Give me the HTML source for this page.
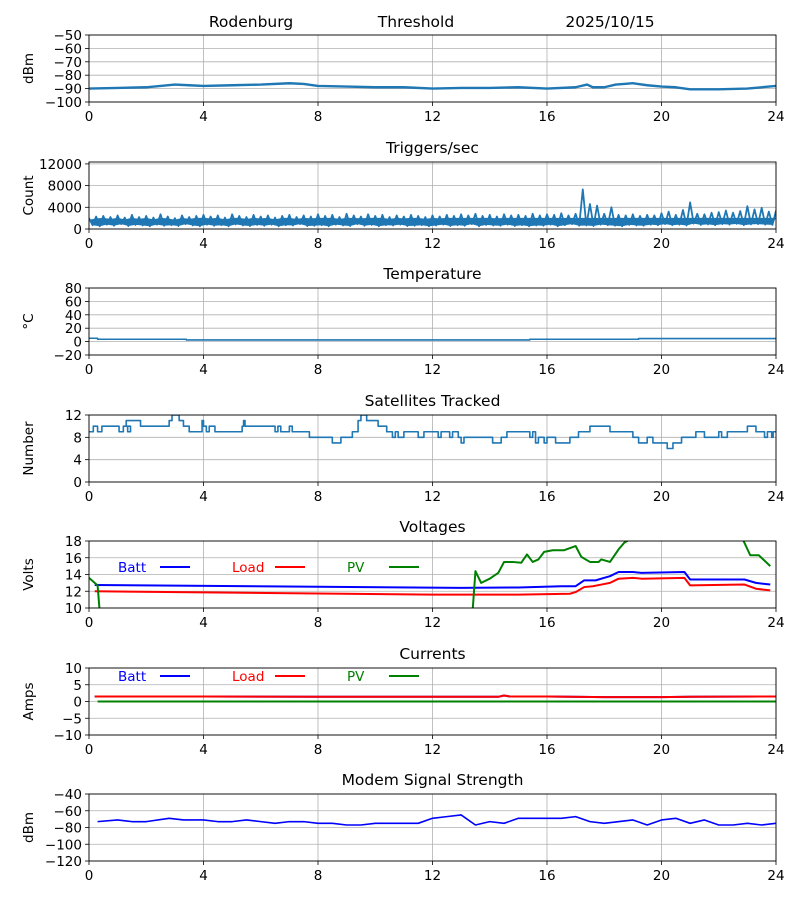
<!DOCTYPE html>
<html><head><meta charset="utf-8">
<style>
html,body{margin:0;padding:0;background:#fff;}
svg{display:block;font-family:"DejaVu Sans","Liberation Sans",sans-serif;}
</style></head>
<body>
<svg id="chart" width="800" height="900" viewBox="0 0 800 900" xmlns="http://www.w3.org/2000/svg">
<rect width="800" height="900" fill="#fff"/>
<text x="251" y="27" font-size="15.5" text-anchor="middle">Rodenburg</text>
<text x="416" y="27" font-size="15.5" text-anchor="middle">Threshold</text>
<text x="610" y="27" font-size="15.5" text-anchor="middle">2025/10/15</text>
</svg>
<script>
// ---- data ----
const xTicks = [0,4,8,12,16,20,24];
// Panel 1: threshold signal (dBm)
const thrHours = [0,1,2,2.5,3,3.5,4,5,6,7,7.5,8,9,10,11,12,13,14,15,16,17,17.4,17.6,18,18.4,18.7,19,19.5,20,20.5,21,22,23,23.5,24];
const thrValues = [-90,-89.5,-89,-88,-87,-87.5,-88,-87.5,-87,-86,-86.5,-88,-88.5,-89,-89,-90,-89.5,-89.5,-89,-90,-89,-87,-89,-89,-87,-86.5,-86,-87.5,-88.5,-89,-90.5,-90.5,-90,-89,-88];
const thrTicks = [-50,-60,-70,-80,-90,-100];
// Panel 2: triggers/sec highs (every 0.25h) and lows (midpoints)
const trigHighs = [2000,2300,2400,2200,2500,2100,2600,2200,2400,2100,2700,2300,2000,2500,2200,2400,2600,
2300,2500,2100,2700,2400,2200,2600,2300,2500,2100,2400,2600,2200,2500,2300,2700,
2400,2600,2200,2800,2500,2300,2700,2400,2600,2200,2500,2300,2600,2400,2200,2500,
2300,2600,2400,2700,2500,2800,2400,2600,2300,2700,2500,2600,2400,2800,2500,2700,
2600,2900,2500,2800,7300,4600,4300,2800,4000,2600,2500,2700,2400,2600,2500,2900,
3200,2600,3500,4900,2800,2700,3000,3100,3400,3000,3300,4200,3600,3900,3200,3400];
const trigLows = [700,500,800,600,900,550,750,650,500,800,600,700,550,900,650,500,
800,600,700,500,850,650,550,750,600,800,500,700,650,900,550,600,
700,500,800,650,550,900,600,750,500,700,650,800,550,600,700,500,
650,800,550,700,600,900,500,750,650,600,800,550,700,500,650,600,
800,500,700,900,600,650,550,800,700,600,500,750,650,600,800,700,
900,700,800,650,1000,750,850,700,900,800,950,700,850,900,800,750];
const trigTicks = [0,4000,8000,12000];
// Panel 3: temperature steps
const tempHours = [0,0.3,0.3,3.4,3.4,15.4,15.4,19.2,19.2,24];
const tempValues = [5,5,3.5,3.5,2.5,2.5,3.5,3.5,4.5,4.5];
const tempTicks = [-20,0,20,40,60,80];
// Panel 4: satellites tracked (step changes)
const satHours = [0,0.15,0.3,0.45,1.05,1.2,1.35,1.45,1.3,1.8,2.8,2.9,3.15,3.3,3.5,3.95,4.0,4.1,4.2,4.4,5.35,5.4,5.45,6.5,6.6,6.7,7.0,7.1,7.7,8.5,8.8,9.2,9.4,9.5,9.7,10.1,10.4,10.6,10.7,10.8,11.0,11.5,11.7,12.2,12.3,12.6,12.7,12.9,13.0,13.1,14.1,14.4,14.6,15.4,15.5,15.6,15.7,15.9,16.0,16.3,16.8,17.1,17.5,18.2,19.0,19.2,19.5,19.7,20.2,20.4,20.7,21.2,21.5,22.0,22.1,22.3,23.0,23.3,23.6,23.7,23.85,23.9,24];
const satValues = [9,10,9,10,9,10,9,10,11,10,11,12,11,10,9,11,10,9,10,9,10,11,10,9,10,9,10,9,8,7,8,9,11,12,11,10,9,8,9,8,9,8,9,8,9,8,9,8,7,8,7,8,9,8,9,7,8,7,8,7,8,9,10,9,8,7,8,7,6,7,8,9,8,9,8,9,10,9,8,9,8,9,9];
const satTicks = [0,4,8,12];
// Panel 5: voltages
const battVHours = [0.2,13,15,16.5,17,17.3,17.7,18,18.2,18.5,19,19.3,20.8,21,22.9,23.3,23.8];
const battVValues = [12.75,12.4,12.45,12.6,12.6,13.3,13.3,13.6,13.8,14.3,14.3,14.2,14.3,13.4,13.4,13.0,12.8];
const loadVHours = [0.2,12,15,16.8,17,17.3,17.6,17.9,18.2,18.5,19,19.3,20.8,21,22.9,23.3,23.8];
const loadVValues = [12.0,11.6,11.6,11.7,11.9,12.5,12.6,12.8,13.0,13.5,13.6,13.5,13.6,12.7,12.8,12.3,12.1];
const pvVHours = [0,0.3,0.6,13.2,13.5,13.7,14.0,14.3,14.5,14.8,15.1,15.3,15.5,15.7,15.9,16.2,16.6,17.0,17.2,17.5,17.8,17.9,18.2,18.5,18.7,18.9,19.5,22.8,23.1,23.4,23.8];
const pvVValues = [13.6,12.7,0,0,14.4,13.0,13.5,14.2,15.5,15.5,15.4,16.4,15.5,15.8,16.7,16.9,16.9,17.4,16.1,15.5,15.5,15.8,15.5,17.0,17.8,18.2,19.5,18.5,16.3,16.3,15.0];
const voltTicks = [10,12,14,16,18];
// Panel 6: currents
const curHours = [0.2,4,8,12,14.3,14.5,14.7,16,18,20,21,24];
const loadCurValues = [1.5,1.5,1.4,1.4,1.4,1.8,1.5,1.5,1.3,1.3,1.4,1.5];
const battCurValues = [1.5,1.5,1.4,1.4,1.4,1.8,1.5,1.5,1.3,1.3,1.4,1.5];
const pvCurValues = [0,0,0,0,0,0,0,0,0,0,0,0];
const curTicks = [-10,-5,0,5,10];
// Panel 7: modem signal
const modemHours = [0.3,1.0,1.5,2.0,2.8,3.3,4.0,4.5,5.0,5.5,6.0,6.5,7.0,7.5,8.0,8.5,9.0,9.5,10.0,11.5,12.0,12.5,13.0,13.5,14.0,14.5,15.0,16.5,17.0,17.5,18.0,19.0,19.5,20.0,20.5,21.0,21.5,22.0,22.5,23.0,23.5,24.0];
const modemValues = [-73,-71,-73,-73,-69,-71,-71,-73,-73,-71,-73,-75,-73,-73,-75,-75,-77,-77,-75,-75,-69,-67,-65,-77,-73,-75,-69,-69,-67,-73,-75,-71,-77,-71,-69,-75,-71,-77,-77,-75,-77,-75];
const modemTicks = [-120,-100,-80,-60,-40];

// ---- drawing ----
const svg = document.getElementById('chart');
const NS = 'http://www.w3.org/2000/svg';
const X0 = 89, X1 = 776;
function mk(tag, attrs, parent){
  const e = document.createElementNS(NS, tag);
  for (const k in attrs) e.setAttribute(k, attrs[k]);
  (parent||svg).appendChild(e);
  return e;
}
function xs(h){ return X0 + (h/24)*(X1-X0); }
function fmt(v){ return String(v).replace('-', '\u2212'); }

function panel(id, top, ymin, ymax, ticks, title, ylabel){
  const bot = top + 67;
  const ys = v => bot - (v-ymin)/(ymax-ymin)*(bot-top);
  const g = mk('g', {});
  
  
  const t = mk('text', {x:(X0+X1)/2, y: top-9, 'font-size':15.5, 'text-anchor':'middle'}, g);
  t.textContent = title;
  
  
  const yl = mk('text', {x:0, y:0, 'font-size':13.5, 'text-anchor':'middle', transform:`translate(33,${(top+bot)/2}) rotate(-90)`}, g);
  yl.textContent = ylabel;
  
  
  xTicks.forEach(h => {
    const x = xs(h);
    mk('line', {x1:x, x2:x, y1:top, y2:bot, stroke:'#b0b0b0', 'stroke-width':0.8}, g);
    mk('line', {x1:x, x2:x, y1:bot, y2:bot+4, stroke:'#000', 'stroke-width':0.8}, g);
    const tl = mk('text', {x:x, y:bot+19, 'font-size':13.5, 'text-anchor':'middle'}, g);
    tl.textContent = h;
    
    
  });
  ticks.forEach(v => {
    const y = ys(v);
    if (y >= top-0.5 && y <= bot+0.5) mk('line', {x1:X0, x2:X1, y1:y, y2:y, stroke:'#b0b0b0', 'stroke-width':0.8}, g);
    mk('line', {x1:X0-4, x2:X0, y1:y, y2:y, stroke:'#000', 'stroke-width':0.8}, g);
    const tl = mk('text', {x:X0-7, y:y+5, 'font-size':13.5, 'text-anchor':'end'}, g);
    tl.textContent = fmt(v);
    
    
  });
  const cid = 'clip-' + id;
  const cp = mk('clipPath', {id:cid}, g);
  mk('rect', {x:X0, y:top, width:X1-X0, height:bot-top}, cp);
  const plot = mk('g', {'clip-path':`url(#${cid})`}, g);
  
  
  const frame = mk('rect', {x:X0, y:top, width:X1-X0, height:bot-top, fill:'none', stroke:'#000', 'stroke-width':0.9}, g);
  
  
  return {ys, plot, g, top};
}
function line(p, hours, vals, color, w, name){
  const d = hours.map((h,i) => (i?'L':'M') + xs(h).toFixed(2) + ',' + p.ys(vals[i]).toFixed(2)).join('');
  const e = mk('path', {d, fill:'none', stroke:color, 'stroke-width':w, 'stroke-linejoin':'round'}, p.plot);
  
  
  return e;
}
function legend(p, y){
  const items = [['Batt','blue',118,160],['Load','red',232,275],['PV','green',347,389]];
  items.forEach(it => {
    const t = mk('text', {x:it[2], y:y+5, 'font-size':13.5, fill:it[1]}, p.g);
    t.textContent = it[0];
    
    
    const l = mk('line', {x1:it[3], x2:it[3]+30, y1:y, y2:y, stroke:it[1], 'stroke-width':2}, p.g);
    
    
  });
}

const blueC = '#1f77b4';
const p1 = panel('threshold', 35, -100, -50, thrTicks, '', 'dBm');
line(p1, thrHours, thrValues, blueC, 2.4, 'threshold-line');

const p2 = panel('triggers', 162, 0, 12350, trigTicks, 'Triggers/sec', 'Count');
// band between lows and a capped envelope of highs
const bandTop = trigHighs.map((v,i) => 'L' + xs(i*0.25).toFixed(2) + ',' + p2.ys(Math.min(v, 2400)*0.85).toFixed(2)).join('');
const bandBot = trigLows.slice().reverse().map((v,j) => { const i = trigLows.length-1-j; return 'L' + xs(i*0.25+0.125).toFixed(2) + ',' + p2.ys(v).toFixed(2); }).join('');
const band = mk('path', {d:'M' + bandTop.slice(1) + bandBot + 'Z', fill:blueC, stroke:'none'}, p2.plot);


const tH = [], tV = [];
trigHighs.forEach((v,i) => {
  tH.push(i*0.25); tV.push(v);
  if (i < trigLows.length){ tH.push(i*0.25+0.125); tV.push(trigLows[i]); }
});
line(p2, tH, tV, blueC, 1.8, 'triggers-line');

const p3 = panel('temperature', 288, -20, 80, tempTicks, 'Temperature', '°C');
line(p3, tempHours, tempValues, blueC, 1.6, 'temperature-line');

const p4 = panel('satellites', 415, 0, 12, satTicks, 'Satellites Tracked', 'Number');
const sH = [], sV = [];
satHours.forEach((h,i) => {
  if (i>0){ sH.push(h); sV.push(satValues[i-1]); }
  sH.push(h); sV.push(satValues[i]);
});
line(p4, sH, sV, blueC, 1.6, 'satellites-line');

const p5 = panel('voltages', 541, 10, 18, voltTicks, 'Voltages', 'Volts');
line(p5, battVHours, battVValues, 'blue', 2, 'batt-voltage-line');
line(p5, loadVHours, loadVValues, 'red', 2, 'load-voltage-line');
line(p5, pvVHours, pvVValues, 'green', 2, 'pv-voltage-line');
legend(p5, 567);

const p6 = panel('currents', 668, -10, 10, curTicks, 'Currents', 'Amps');
line(p6, curHours, battCurValues, 'blue', 2, 'batt-current-line');
line(p6, curHours, loadCurValues, 'red', 2, 'load-current-line');
line(p6, curHours.map(h=>h<0.3?0.3:h), pvCurValues, 'green', 2, 'pv-current-line');
legend(p6, 676);

const p7 = panel('modem', 794, -120, -40, modemTicks, 'Modem Signal Strength', 'dBm');
line(p7, modemHours, modemValues, 'blue', 1.6, 'modem-signal-line');
</script>
</body></html>
